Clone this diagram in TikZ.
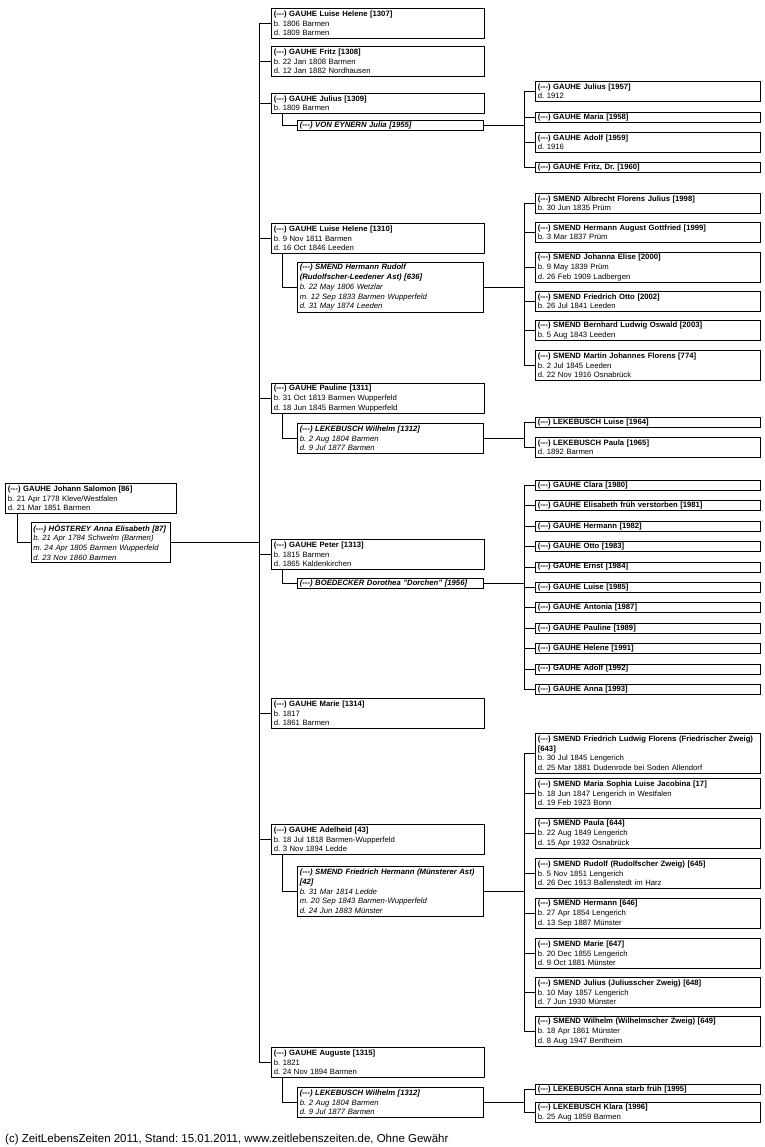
\documentclass[tikz,border=0pt]{standalone}
\usepackage{fontspec}
\setmainfont{Liberation Sans}
\newcommand\dsh{(-\kern0pt-\kern0pt-)}
\frenchspacing
\begin{document}
\begin{tikzpicture}[x=1pt,y=-1pt,
  box/.style={draw, line width=0.7pt, anchor=north west, inner xsep=2.5pt, inner ysep=0pt, align=left, font=\fontsize{7.7}{9.7}\selectfont},
  kid2/.style={box, text width=208pt},
  sp2/.style={box, text width=181pt, font=\fontsize{7.7}{9.7}\selectfont\itshape},
  kid3/.style={box, text width=220pt},
  link/.style={line width=0.7pt}]
\useasboundingbox[fill=white] (0,0) rectangle (764,1147);
\coordinate (x0) at (17,0);
\coordinate (b2) at (259,0);
\coordinate (sx) at (282,0);
\coordinate (b3) at (524,0);
% root
\node[box, text width=166pt, minimum height=30pt] (r86) at (5,483) {\textbf{\dsh{} GAUHE Johann Salomon [86]}\\b. 21 Apr 1778 Kleve/Westfalen\\d. 21 Mar 1851 Barmen};
\node[box, text width=135pt, inner xsep=2pt, minimum height=40pt, font=\fontsize{7.7}{9.7}\selectfont\itshape] (s87) at (31,522) {\mbox{\textbf{\dsh{} HÖSTEREY Anna Elisabeth [87]}}\\b. 21 Apr 1784 Schwelm (Barmen)\\m. 24 Apr 1805 Barmen Wupperfeld\\d. 23 Nov 1860 Barmen};
% column 2
\node[kid2, minimum height=30pt] (c1307) at (271,8) {\textbf{\dsh{} GAUHE Luise Helene [1307]}\\b. 1806 Barmen\\d. 1809 Barmen};
\node[kid2, minimum height=30pt] (c1308) at (271,46) {\textbf{\dsh{} GAUHE Fritz [1308]}\\b. 22 Jan 1808 Barmen\\d. 12 Jan 1882 Nordhausen};
\node[kid2, minimum height=20pt] (c1309) at (271,93) {\textbf{\dsh{} GAUHE Julius [1309]}\\b. 1809 Barmen};
\node[sp2, minimum height=10pt] (s1955) at (297,120) {\textbf{\dsh{} VON EYNERN Julia [1955]}};
\node[kid2, minimum height=30pt] (c1310) at (271,223) {\textbf{\dsh{} GAUHE Luise Helene [1310]}\\b. 9 Nov 1811 Barmen\\d. 16 Oct 1846 Leeden};
\node[sp2, minimum height=50pt] (s636) at (297,262) {\textbf{\dsh{} SMEND Hermann Rudolf}\\\textbf{(Rudolfscher-Leedener Ast) [636]}\\b. 22 May 1806 Wetzlar\\m. 12 Sep 1833 Barmen Wupperfeld\\d. 31 May 1874 Leeden};
\node[kid2, minimum height=30pt] (c1311) at (271,383) {\textbf{\dsh{} GAUHE Pauline [1311]}\\b. 31 Oct 1813 Barmen Wupperfeld\\d. 18 Jun 1845 Barmen Wupperfeld};
\node[sp2, minimum height=30pt] (s1312a) at (297,423) {\textbf{\dsh{} LEKEBUSCH Wilhelm [1312]}\\b. 2 Aug 1804 Barmen\\d. 9 Jul 1877 Barmen};
\node[kid2, minimum height=30pt] (c1313) at (271,539) {\textbf{\dsh{} GAUHE Peter [1313]}\\b. 1815 Barmen\\d. 1865 Kaldenkirchen};
\node[sp2, minimum height=10pt] (s1956) at (297,578) {\textbf{\dsh{} BOEDECKER Dorothea "Dorchen" [1956]}};
\node[kid2, minimum height=30pt] (c1314) at (271,698) {\textbf{\dsh{} GAUHE Marie [1314]}\\b. 1817\\d. 1861 Barmen};
\node[kid2, minimum height=30pt] (c43) at (271,824) {\textbf{\dsh{} GAUHE Adelheid [43]}\\b. 18 Jul 1818 Barmen-Wupperfeld\\d. 3 Nov 1894 Ledde};
\node[sp2, minimum height=50pt] (s42) at (297,866) {\textbf{\dsh{} SMEND Friedrich Hermann (Münsterer Ast)}\\\textbf{[42]}\\b. 31 Mar 1814 Ledde\\m. 20 Sep 1843 Barmen-Wupperfeld\\d. 24 Jun 1883 Münster};
\node[kid2, minimum height=30pt] (c1315) at (271,1047) {\textbf{\dsh{} GAUHE Auguste [1315]}\\b. 1821\\d. 24 Nov 1894 Barmen};
\node[sp2, minimum height=30pt] (s1312b) at (297,1087) {\textbf{\dsh{} LEKEBUSCH Wilhelm [1312]}\\b. 2 Aug 1804 Barmen\\d. 9 Jul 1877 Barmen};
% column 3
\node[kid3, minimum height=20pt] (g1957) at (535,81) {\textbf{\dsh{} GAUHE Julius [1957]}\\d. 1912};
\node[kid3, minimum height=10pt] (g1958) at (535,112) {\textbf{\dsh{} GAUHE Maria [1958]}};
\node[kid3, minimum height=20pt] (g1959) at (535,132) {\textbf{\dsh{} GAUHE Adolf [1959]}\\d. 1916};
\node[kid3, minimum height=10pt] (g1960) at (535,162) {\textbf{\dsh{} GAUHE Fritz, Dr. [1960]}};
\node[kid3, minimum height=20pt] (m1998) at (535,193) {\textbf{\dsh{} SMEND Albrecht Florens Julius [1998]}\\b. 30 Jun 1835 Prüm};
\node[kid3, minimum height=20pt] (m1999) at (535,222) {\textbf{\dsh{} SMEND Hermann August Gottfried [1999]}\\b. 3 Mar 1837 Prüm};
\node[kid3, minimum height=30pt] (m2000) at (535,252) {\textbf{\dsh{} SMEND Johanna Elise [2000]}\\b. 9 May 1839 Prüm\\d. 26 Feb 1909 Ladbergen};
\node[kid3, minimum height=20pt] (m2002) at (535,291) {\textbf{\dsh{} SMEND Friedrich Otto [2002]}\\b. 26 Jul 1841 Leeden};
\node[kid3, minimum height=20pt] (m2003) at (535,320) {\textbf{\dsh{} SMEND Bernhard Ludwig Oswald [2003]}\\b. 5 Aug 1843 Leeden};
\node[kid3, minimum height=30pt] (m774) at (535,350) {\textbf{\dsh{} SMEND Martin Johannes Florens [774]}\\b. 2 Jul 1845 Leeden\\d. 22 Nov 1916 Osnabrück};
\node[kid3, minimum height=10pt] (l1964) at (535,417) {\textbf{\dsh{} LEKEBUSCH Luise [1964]}};
\node[kid3, minimum height=20pt] (l1965) at (535,437) {\textbf{\dsh{} LEKEBUSCH Paula [1965]}\\d. 1892 Barmen};
\node[kid3, minimum height=10pt] (p1980) at (535,480) {\textbf{\dsh{} GAUHE Clara [1980]}};
\node[kid3, minimum height=10pt] (p1981) at (535,500.4) {\textbf{\dsh{} GAUHE Elisabeth früh verstorben [1981]}};
\node[kid3, minimum height=10pt] (p1982) at (535,520.8) {\textbf{\dsh{} GAUHE Hermann [1982]}};
\node[kid3, minimum height=10pt] (p1983) at (535,541.2) {\textbf{\dsh{} GAUHE Otto [1983]}};
\node[kid3, minimum height=10pt] (p1984) at (535,561.6) {\textbf{\dsh{} GAUHE Ernst [1984]}};
\node[kid3, minimum height=10pt] (p1985) at (535,582) {\textbf{\dsh{} GAUHE Luise [1985]}};
\node[kid3, minimum height=10pt] (p1987) at (535,602.4) {\textbf{\dsh{} GAUHE Antonia [1987]}};
\node[kid3, minimum height=10pt] (p1989) at (535,622.8) {\textbf{\dsh{} GAUHE Pauline [1989]}};
\node[kid3, minimum height=10pt] (p1991) at (535,643.2) {\textbf{\dsh{} GAUHE Helene [1991]}};
\node[kid3, minimum height=10pt] (p1992) at (535,663.6) {\textbf{\dsh{} GAUHE Adolf [1992]}};
\node[kid3, minimum height=10pt] (p1993) at (535,684) {\textbf{\dsh{} GAUHE Anna [1993]}};
\node[kid3, minimum height=40pt] (f643) at (535,733) {\textbf{\dsh{} SMEND Friedrich Ludwig Florens (Friedrischer Zweig)}\\\textbf{[643]}\\b. 30 Jul 1845 Lengerich\\d. 25 Mar 1881 Dudenrode bei Soden Allendorf};
\node[kid3, minimum height=30pt] (f17) at (535,778) {\textbf{\dsh{} SMEND Maria Sophia Luise Jacobina [17]}\\b. 18 Jun 1847 Lengerich in Westfalen\\d. 19 Feb 1923 Bonn};
\node[kid3, minimum height=30pt] (f644) at (535,818) {\textbf{\dsh{} SMEND Paula [644]}\\b. 22 Aug 1849 Lengerich\\d. 15 Apr 1932 Osnabrück};
\node[kid3, minimum height=30pt] (f645) at (535,858) {\textbf{\dsh{} SMEND Rudolf (Rudolfscher Zweig) [645]}\\b. 5 Nov 1851 Lengerich\\d. 26 Dec 1913 Ballenstedt im Harz};
\node[kid3, minimum height=30pt] (f646) at (535,898) {\textbf{\dsh{} SMEND Hermann [646]}\\b. 27 Apr 1854 Lengerich\\d. 13 Sep 1887 Münster};
\node[kid3, minimum height=30pt] (f647) at (535,938) {\textbf{\dsh{} SMEND Marie [647]}\\b. 20 Dec 1855 Lengerich\\d. 9 Oct 1881 Münster};
\node[kid3, minimum height=30pt] (f648) at (535,977) {\textbf{\dsh{} SMEND Julius (Juliusscher Zweig) [648]}\\b. 10 May 1857 Lengerich\\d. 7 Jun 1930 Münster};
\node[kid3, minimum height=30pt] (f649) at (535,1016) {\textbf{\dsh{} SMEND Wilhelm (Wilhelmscher Zweig) [649]}\\b. 18 Apr 1861 Münster\\d. 8 Aug 1947 Bentheim};
\node[kid3, minimum height=10pt] (a1995) at (535,1084) {\textbf{\dsh{} LEKEBUSCH Anna starb früh [1995]}};
\node[kid3, minimum height=20pt] (a1996) at (535,1102) {\textbf{\dsh{} LEKEBUSCH Klara [1996]}\\b. 25 Aug 1859 Barmen};
% footer
\node[anchor=base west, inner sep=0pt, font=\fontsize{11.5}{13}\selectfont] (foot) at (5,1142) {(c) ZeitLebensZeiten 2011, Stand: 15.01.2011, www.zeitlebenszeiten.de, Ohne Gewähr};
% connectors: root
\draw[link] (r86.south -| x0) |- (s87.west);
\draw[link] (s87.east) -- (s87.east -| b2);
% column 2 bar
\draw[link] (c1307.west -| b2) -- (c1315.west -| b2);
\foreach \n in {c1307,c1308,c1309,c1310,c1311,c1313,c1314,c43,c1315}
  \draw[link] (\n.west -| b2) -- (\n.west);
% spouses in column 2
\foreach \c/\s in {c1309/s1955,c1310/s636,c1311/s1312a,c1313/s1956,c43/s42,c1315/s1312b}{
  \draw[link] (\c.south -| sx) |- (\s.west);
  \draw[link] (\s.east) -- (\s.east -| b3);
}
% column 3 bars
\foreach \a/\b in {g1957/g1960,m1998/m774,l1964/l1965,p1980/p1993,f643/f649,a1995/a1996}
  \draw[link] (\a.west -| b3) -- (\b.west -| b3);
\foreach \n in {g1957,g1958,g1959,g1960,m1998,m1999,m2000,m2002,m2003,m774,l1964,l1965,p1980,p1981,p1982,p1983,p1984,p1985,p1987,p1989,p1991,p1992,p1993,f643,f17,f644,f645,f646,f647,f648,f649,a1995,a1996}
  \draw[link] (\n.west -| b3) -- (\n.west);
\end{tikzpicture}
\end{document}
